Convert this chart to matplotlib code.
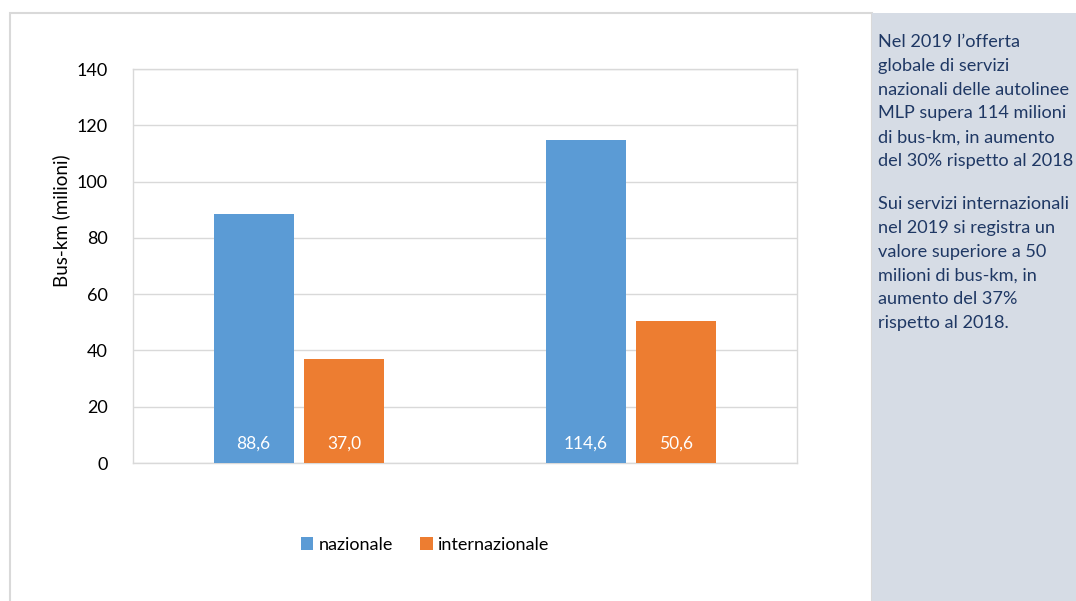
import matplotlib.pyplot as plt
import numpy as np
from matplotlib.patches import Rectangle

plt.rcParams['font.family'] = ['Lato', 'DejaVu Sans']

years = ['2018', '2019']
nazionale = [88.6, 114.6]
internazionale = [37.0, 50.6]
series_names = ['nazionale', 'internazionale']
colors = ['#5B9BD5', '#ED7D31']

note_1 = ["Nel 2019 l\u2019offerta", "globale di servizi", "nazionali delle autolinee",
          "MLP supera 114 milioni", "di bus-km, in aumento", "del 30% rispetto al 2018"]
note_2 = ["Sui servizi internazionali", "nel 2019 si registra un", "valore superiore a 50",
          "milioni di bus-km, in", "aumento del 37%", "rispetto al 2018."]

W, H = 1076, 601
fig = plt.figure(figsize=(W / 100, H / 100), dpi=100)

# outer frame and side panel
fig.add_artist(Rectangle((10 / W, -0.01), 862 / W, (H - 13) / H + 0.01,
                         transform=fig.transFigure, fill=False,
                         edgecolor='#D9D9D9', linewidth=1.5))
fig.add_artist(Rectangle((872 / W, 0), (W - 872) / W, (H - 13) / H,
                         transform=fig.transFigure, facecolor='#D6DCE5',
                         edgecolor='none'))

ax = fig.add_axes([133 / W, (H - 463) / H, (797 - 133) / W, (463 - 69) / H])
x = np.arange(len(years))
w = 0.241
off = 0.137
b1 = ax.bar(x - off, nazionale, w, color=colors[0], label=series_names[0], zorder=3)
b2 = ax.bar(x + off, internazionale, w, color=colors[1], label=series_names[1], zorder=3)

for bars, vals in [(b1, nazionale), (b2, internazionale)]:
    for r, v in zip(bars, vals):
        ax.text(r.get_x() + r.get_width() / 2, 7, f'{v:.1f}'.replace('.', ','),
                ha='center', va='center', color='white', fontsize=12.5, zorder=4)

ax.set_xlim(-0.5, 1.5)
ax.set_ylim(0, 140)
ax.set_yticks(range(0, 141, 20))
ax.set_xticks([])
ax.tick_params(axis='y', length=0, pad=18, labelsize=13)
ax.grid(axis='y', color='#D9D9D9', linewidth=1, zorder=0)
for s in ax.spines.values():
    s.set_color('#D9D9D9')
    s.set_linewidth(1)
ax.set_ylabel('Bus-km (milioni)', fontsize=13.5)
ax.yaxis.set_label_coords(-0.094, 0.614)

fig.legend(handles=[b1, b2], labels=series_names, loc='center',
           bbox_to_anchor=(425 / W, (H - 545) / H), ncol=2, frameon=False,
           fontsize=13, handlelength=0.7, handleheight=0.7, handletextpad=0.3,
           columnspacing=1.5)

y0 = 42
for i, line in enumerate(note_1):
    fig.text(878 / W, (H - (y0 + i * 23.8)) / H, line, fontsize=13.1,
             color='#1F3864', va='center', ha='left')
y0 = 204
for i, line in enumerate(note_2):
    fig.text(878 / W, (H - (y0 + i * 23.8)) / H, line, fontsize=13.1,
             color='#1F3864', va='center', ha='left')

fig.savefig('out.png', dpi=100)
